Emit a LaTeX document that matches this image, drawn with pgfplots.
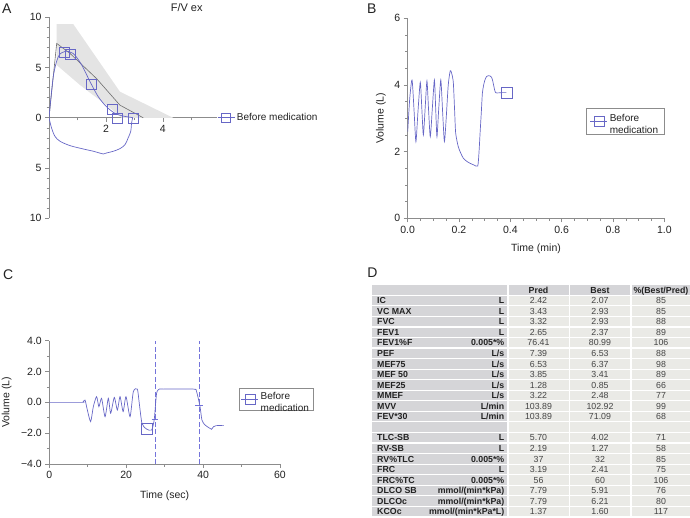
\documentclass[border=0pt]{standalone}
\usepackage{fontspec}
\setmainfont{Liberation Sans}
\usepackage{pgfplots}
\pgfplotsset{compat=1.18}

\definecolor{fvblue}{HTML}{6767C6}
\definecolor{dashblue}{HTML}{7474DA}
\definecolor{axgray}{HTML}{8C8C8C}
\definecolor{bandgray}{HTML}{E4E4E4}
\definecolor{predgray}{HTML}{6E6E6E}
\definecolor{txt}{HTML}{222222}
\definecolor{labcell}{HTML}{D5D5D8}
\definecolor{valcell}{HTML}{EAEAE6}
\definecolor{numtxt}{HTML}{444444}

\newcommand\ticfont{\fontsize{10.5}{12.6}\selectfont}
\newcommand\legfont{\fontsize{10}{12}\selectfont}
\newcommand\tabfont{\fontsize{8.8}{10}\selectfont}

\pgfplotsset{
  panel/.style={
    scale only axis,
    axis line style={draw=axgray, line width=0.6pt},
    tick style={draw=axgray, line width=0.6pt},
    tick align=outside,
    major tick length=4pt, minor tick length=2.5pt,
    tick label style={font=\ticfont, text=txt},
    label style={font=\ticfont, text=txt},
    /pgf/number format/assume math mode=true,
    legend style={font=\legfont, text=txt, draw=axgray, line width=0.6pt,
      inner xsep=4pt, inner ysep=3pt},
    legend cell align=left,
  }
}

% one row of the results table: index, name, unit, pred, best, percent
\newcommand\trow[6]{%
  \pgfmathsetmacro\yc{517-290-#1*10.55}%
  \fill[labcell] (372,\yc-4.7) rectangle (507.3,\yc+4.7);
  \fill[valcell] (508.5,\yc-4.7) rectangle (568.5,\yc+4.7);
  \fill[valcell] (569.8,\yc-4.7) rectangle (630.2,\yc+4.7);
  \fill[valcell] (631.5,\yc-4.7) rectangle (692,\yc+4.7);
  \node[anchor=base west, inner sep=0, text=txt] at (377,\yc-3.2) {\tabfont\bfseries #2};
  \node[anchor=base east, inner sep=0, text=txt] at (504.5,\yc-3.2) {\tabfont\bfseries #3};
  \node[anchor=base, inner sep=0, text=numtxt] at (538.5,\yc-3.2) {\tabfont #4};
  \node[anchor=base, inner sep=0, text=numtxt] at (600,\yc-3.2) {\tabfont #5};
  \node[anchor=base, inner sep=0, text=numtxt] at (661,\yc-3.2) {\tabfont #6};
}

\begin{document}
\begin{tikzpicture}[x=1pt,y=1pt]
\useasboundingbox (0,0) rectangle (690,517);

% panel letters and title
\node[font=\fontsize{14}{16}\selectfont, text=txt] at (6.7,508.3) {A};
\node[font=\fontsize{14}{16}\selectfont, text=txt] at (371.7,508.7) {B};
\node[font=\fontsize{14}{16}\selectfont, text=txt] at (8.3,242) {C};
\node[font=\fontsize{14}{16}\selectfont, text=txt] at (372.5,244) {D};
\node[font=\fontsize{11}{13}\selectfont, text=txt] at (186.7,509.5) {F/V ex};

% ---------- A: flow/volume loop
\begin{axis}[panel, at={(49pt,298.7pt)}, anchor=south west,
  width=168pt, height=201pt,
  xmin=0, xmax=5.9, ymin=-10, ymax=10,
  axis x line*=middle, axis y line*=left,
  xtick={2,4}, minor xtick={1,3,5},
  ytick={-10,-5,0,5,10}, yticklabels={10,5,0,5,10},
  minor y tick num=4,
  legend style={draw=none, fill=none, at={(axis description cs:1.0,0.5)},
    anchor=west, inner xsep=0pt, font=\legfont},
]
\addlegendimage{fvblue, line width=0.6pt, mark=square, mark size=4.5pt}
\addlegendentry{Before medication}
\addplot[fill=bandgray, draw=none, forget plot] coordinates {
  (0.27,9.33) (0.85,9.33) (2.49,2.6) (4.36,0) (2.55,0) (2.37,0.44)
  (2.02,1.27) (1.55,2.26) (1.09,3.26) (0.62,4.4) (0.27,5.25)};
\addplot[predgray, line width=0.6pt, forget plot] coordinates {
  (0,0) (0.27,7.4) (0.74,6.4) (1.67,3.9) (2.49,1.26) (3.31,0)};
\addplot[fvblue, line width=0.7pt, smooth, tension=0.5, forget plot] coordinates {
  (0,0) (0.15,4.1) (0.33,6.1) (0.56,6.6) (0.85,6.4) (1.15,5.25) (1.44,3.6)
  (1.73,2.1) (2.02,1.1) (2.32,0.44) (2.61,0.17) (2.94,0.02)};
\addplot[fvblue, line width=0.7pt, smooth, tension=0.5, forget plot] coordinates {
  (2.94,0.02) (2.9,-0.53) (2.87,-1.35) (2.78,-2.0) (2.67,-2.67) (2.49,-3.07)
  (2.26,-3.33) (2.02,-3.5) (1.91,-3.6) (1.56,-3.33) (1.2,-3.1) (0.74,-2.77)
  (0.39,-2.34) (0.21,-1.85) (0.09,-1.02) (0,0)};
\addplot[only marks, mark=square, mark size=5pt, fvblue,
  mark options={line width=0.7pt}, forget plot] coordinates {
  (0.54,6.47) (0.76,6.3) (1.47,3.3) (2.22,0.8) (2.4,-0.1) (2.96,-0.05)};
\end{axis}

% ---------- B: volume/time (min)
\begin{axis}[panel, at={(407.7pt,298.7pt)}, anchor=south west,
  width=256.6pt, height=200pt,
  xmin=0, xmax=1, ymin=0, ymax=6,
  axis lines*=left,
  xtick={0,0.2,0.4,0.6,0.8,1}, xticklabels={0.0,0.2,0.4,0.6,0.8,1.0},
  ytick={0,2,4,6}, minor tick num=3,
  xlabel={Time (min)}, ylabel={Volume (L)},
  xlabel style={at={(axis description cs:0.5,-0.1535)}, anchor=center},
  ylabel style={at={(axis description cs:-0.104,0.5)}, anchor=center},
  legend style={at={(axis description cs:0.694,0.5515)}, anchor=north west},
]
\addlegendimage{fvblue, line width=0.6pt, mark=square, mark size=5pt}
\addlegendentry{\begin{tabular}{@{}l@{}}Before\\medication\end{tabular}}
\addplot[fvblue, line width=0.7pt, smooth, tension=0.4, forget plot] coordinates {
  (0,2.6) (0.008,3.6) (0.017,4.15) (0.025,3.2) (0.032,2.3) (0.04,3.2)
  (0.049,4.08) (0.055,3.3) (0.061,2.5) (0.068,3.3) (0.075,4.12) (0.081,3.3)
  (0.088,2.45) (0.096,3.3) (0.104,4.15) (0.109,3.3) (0.114,2.45) (0.121,3.3)
  (0.129,4.15) (0.136,3.2) (0.143,2.3) (0.150,3.0) (0.158,4.0) (0.166,4.43)
  (0.173,4.3) (0.178,4.05) (0.183,3.2) (0.187,2.55) (0.197,2.15) (0.207,1.95)
  (0.217,1.8) (0.23,1.71) (0.243,1.65) (0.258,1.6) (0.273,1.57) (0.278,2.0)
  (0.282,2.55) (0.287,3.2) (0.291,3.75) (0.296,4.0) (0.301,4.15) (0.307,4.25)
  (0.314,4.28) (0.321,4.27) (0.327,4.23) (0.332,4.1) (0.336,3.95) (0.343,3.77)
  (0.366,3.77) (0.385,3.77)};
\addplot[only marks, mark=square, mark size=5.5pt, fvblue,
  mark options={line width=0.7pt}, forget plot] coordinates {(0.388,3.75)};
\end{axis}

% ---------- C: volume/time (sec)
\begin{axis}[panel, at={(49.3pt,53pt)}, anchor=south west,
  width=230.7pt, height=123.3pt,
  xmin=0, xmax=60, ymin=-4, ymax=4,
  axis lines*=left,
  xtick={0,20,40,60},
  ytick={-4,-2,0,2,4}, yticklabels={−4.0,−2.0,0.0,2.0,4.0},
  minor tick num=1,
  xlabel={Time (sec)}, ylabel={Volume (L)},
  xlabel style={at={(axis description cs:0.5,-0.2595)}, anchor=center},
  ylabel style={at={(axis description cs:-0.1847,0.5)}, anchor=center},
  legend style={at={(axis description cs:0.821,0.619)}, anchor=north west,
    inner xsep=2pt, inner ysep=1pt},
]
\addlegendimage{fvblue, line width=0.6pt, mark=square, mark size=5pt}
\addlegendentry{\begin{tabular}{@{}l@{}}Before\\medication\end{tabular}}
\addplot[draw=dashblue, line width=0.9pt, dash pattern=on 5pt off 2.5pt, forget plot]
  coordinates {(27.5,-4) (27.5,4)};
\addplot[draw=dashblue, line width=0.9pt, dash pattern=on 5pt off 2.5pt, forget plot]
  coordinates {(39,-4) (39,4)};
\addplot[draw=dashblue, line width=0.5pt, forget plot] coordinates {(26.6,-1.1) (28.4,-1.1)};
\addplot[draw=dashblue, line width=0.5pt, forget plot] coordinates {(37.9,-0.18) (40,-0.18)};
\addplot[fvblue, line width=0.7pt, smooth, tension=0.4, forget plot] coordinates {
  (0,0) (8.5,0) (8.85,0.04) (9.3,0.15) (9.9,-0.5) (10.75,-1.25) (11.45,-0.28)
  (12.3,0.37) (12.9,-0.28) (13.6,0.26) (14.5,-0.93) (15.35,0.26) (15.96,-0.71)
  (16.9,0.32) (17.7,-0.5) (18.4,0.37) (19.2,-0.6) (19.95,0.37) (21,-0.93)
  (21.85,0.69) (22.9,0.86) (23.4,-0.06) (24.1,-1.36) (25.2,-1.72) (26.6,-1.8)
  (27.3,-1.1) (27.9,0.58) (28.6,0.86) (29.66,0.86) (37.5,0.86) (38.3,0.7)
  (39.2,-0.28) (39.7,-1.15) (40.5,-1.47) (41.8,-1.69) (42.2,-1.75) (42.7,-1.58)
  (43.4,-1.51) (45.4,-1.51)};
\addplot[only marks, mark=square, mark size=5.5pt, fvblue,
  mark options={line width=0.7pt}, forget plot] coordinates {(25.3,-1.71)};
\end{axis}

% ---------- D: results table
\pgfmathsetmacro\yc{517-290}
\fill[labcell] (372,\yc-4.7) rectangle (507.3,\yc+4.7);
\fill[labcell] (508.5,\yc-4.7) rectangle (568.5,\yc+4.7);
\fill[labcell] (569.8,\yc-4.7) rectangle (630.2,\yc+4.7);
\fill[labcell] (631.5,\yc-4.7) rectangle (692,\yc+4.7);
\node[anchor=base, inner sep=0, text=txt] at (538.5,\yc-3.2) {\tabfont\bfseries Pred};
\node[anchor=base, inner sep=0, text=txt] at (600,\yc-3.2) {\tabfont\bfseries Best};
\node[anchor=base, inner sep=0, text=txt] at (661,\yc-3.2) {\tabfont\bfseries \%(Best/Pred)};
\trow{1}{IC}{L}{2.42}{2.07}{85}
\trow{2}{VC MAX}{L}{3.43}{2.93}{85}
\trow{3}{FVC}{L}{3.32}{2.93}{88}
\trow{4}{FEV1}{L}{2.65}{2.37}{89}
\trow{5}{FEV1\%F}{0.005*\%}{76.41}{80.99}{106}
\trow{6}{PEF}{L/s}{7.39}{6.53}{88}
\trow{7}{MEF75}{L/s}{6.53}{6.37}{98}
\trow{8}{MEF 50}{L/s}{3.85}{3.41}{89}
\trow{9}{MEF25}{L/s}{1.28}{0.85}{66}
\trow{10}{MMEF}{L/s}{3.22}{2.48}{77}
\trow{11}{MVV}{L/min}{103.89}{102.92}{99}
\trow{12}{FEV*30}{L/min}{103.89}{71.09}{68}
\trow{13}{}{}{}{}{}
\trow{14}{TLC-SB}{L}{5.70}{4.02}{71}
\trow{15}{RV-SB}{L}{2.19}{1.27}{58}
\trow{16}{RV\%TLC}{0.005*\%}{37}{32}{85}
\trow{17}{FRC}{L}{3.19}{2.41}{75}
\trow{18}{FRC\%TC}{0.005*\%}{56}{60}{106}
\trow{19}{DLCO SB}{mmol/(min*kPa)}{7.79}{5.91}{76}
\trow{20}{DLCOc}{mmol/(min*kPa)}{7.79}{6.21}{80}
\trow{21}{KCOc}{mmol/(min*kPa*L)}{1.37}{1.60}{117}
\end{tikzpicture}
\end{document}
